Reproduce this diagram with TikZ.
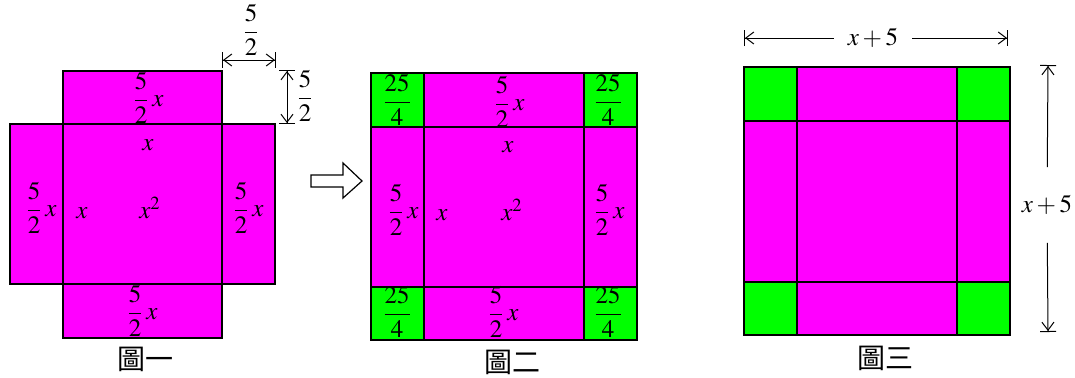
\documentclass[tikz,border=0pt]{standalone}
\usepackage{amsmath}
\usepackage{mathptmx}
\usepackage{fontspec}
\newfontfamily\cjkfont{Noto Sans CJK TC}
\usetikzlibrary{arrows.meta}
\definecolor{mag}{RGB}{255,0,255}
\definecolor{grn}{RGB}{0,255,0}

\begin{document}
\begin{tikzpicture}[x=0.5pt,y=-0.5pt,font=\fontsize{12.5}{15}\selectfont,
  piece/.style={draw=black,line width=1.2pt,fill=mag},
  corner/.style={draw=black,line width=1.2pt,fill=grn},
  dimline/.style={line width=0.5pt,{Bar[width=8pt]Straight Barb[length=4pt,width=6pt]}-{Straight Barb[length=4pt,width=6pt]Bar[width=8pt]}},
  dimhalf/.style={line width=0.5pt,-{Straight Barb[length=4pt,width=6pt]Bar[width=8pt]}},
  figcap/.style={font=\cjkfont\fontsize{14}{16}\selectfont}]
\useasboundingbox (0,0) rectangle (1075,377);

% figure one: the cross
\draw [piece] (63,71) rectangle (222,124);
\draw [piece] (10,124) rectangle (63,284);
\draw [piece] (63,124) rectangle (222,284);
\draw [piece] (222,124) rectangle (275,284);
\draw [piece] (63,284) rectangle (222,338);
      \node (a1) at (148,98) {$\dfrac{5}{2}\,x$};
      \node (a2) at (148,145) {$x$};
      \node (a3) at (41,208) {$\dfrac{5}{2}\,x$};
      \node (a4) at (82,213) {$x$};
      \node (a5) at (150,208) {$x^2$};
      \node (a6) at (248,208) {$\dfrac{5}{2}\,x$};
      \node (a7) at (142,311) {$\dfrac{5}{2}\,x$};
      \node [figcap] (capa) at (145,359) {圖一};
% the two 5/2 marks
\coordinate (hA) at (222,60);
\coordinate (hB) at (276,60);
\draw [dimline] (hA) -- (hB);
      \node (hlab) at (251,30) {$\dfrac{5}{2}$};
\coordinate (vA) at (287,70);
\coordinate (vB) at (287,124);
\draw [dimline] (vA) -- (vB);
      \node (vlab) at (305,96) {$\dfrac{5}{2}$};

% hollow arrow
\draw [line width=0.6pt,fill=white] (311,175) -- (343,175) -- (343,163) -- (362,181)
      -- (343,198) -- (343,187) -- (311,187) -- cycle;

% figure two: corners filled in
\draw [corner] (371,73) rectangle (424,127);
\draw [piece] (424,73) rectangle (584,127);
\draw [corner] (584,73) rectangle (637,127);
\draw [piece] (371,127) rectangle (424,287);
\draw [piece] (424,127) rectangle (584,287);
\draw [piece] (584,127) rectangle (637,287);
\draw [corner] (371,287) rectangle (424,340);
\draw [piece] (424,287) rectangle (584,340);
\draw [corner] (584,287) rectangle (637,340);
      \node (b1) at (397,100) {$\dfrac{25}{4}$};
      \node (b2) at (509,102) {$\dfrac{5}{2}\,x$};
      \node (b3) at (608,100) {$\dfrac{25}{4}$};
      \node (b4) at (508,147) {$x$};
      \node (b5) at (403,210) {$\dfrac{5}{2}\,x$};
      \node (b6) at (442,215) {$x$};
      \node (b7) at (512,210) {$x^2$};
      \node (b8) at (609,210) {$\dfrac{5}{2}\,x$};
      \node (b9) at (397,312) {$\dfrac{25}{4}$};
      \node (b10) at (503,312) {$\dfrac{5}{2}\,x$};
      \node (b11) at (608,312) {$\dfrac{25}{4}$};
      \node [figcap] (capb) at (512,362) {圖二};

% figure three: the whole square
\draw [corner] (744,67) rectangle (797,121);
\draw [piece] (797,67) rectangle (957,121);
\draw [corner] (957,67) rectangle (1010,121);
\draw [piece] (744,121) rectangle (797,282);
\draw [piece] (797,121) rectangle (957,282);
\draw [piece] (957,121) rectangle (1010,282);
\draw [corner] (744,282) rectangle (797,335);
\draw [piece] (797,282) rectangle (957,335);
\draw [corner] (957,282) rectangle (1010,335);
      \node [figcap] (capc) at (885,358) {圖三};
% x+5 marks
\coordinate (tA) at (744,38);
\coordinate (tB) at (1008,38);
      \node [inner xsep=7pt] (tlab) at (873,38) {$x+5$};
\draw [dimhalf] (tlab) -- (tA);
\draw [dimhalf] (tlab) -- (tB);
\coordinate (rA) at (1048,65);
\coordinate (rB) at (1048,332);
      \node [inner ysep=14pt] (rlab) at (1047,205) {$x+5$};
\draw [dimhalf] (rlab) -- (rA);
\draw [dimhalf] (rlab) -- (rB);
\end{tikzpicture}
\end{document}
